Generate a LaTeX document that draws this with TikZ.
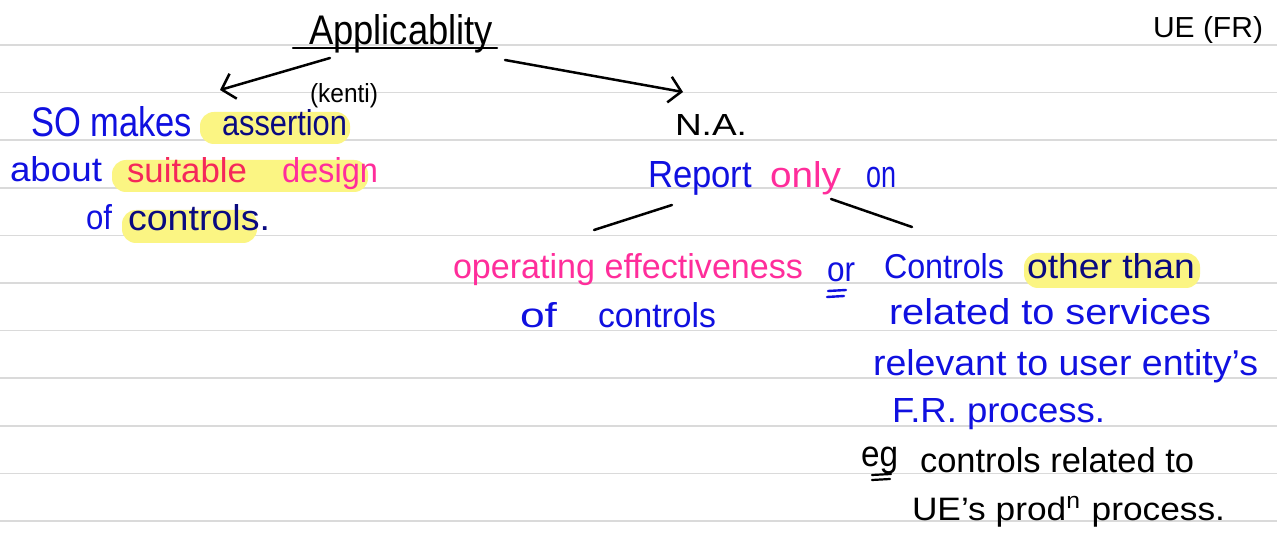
\documentclass[tikz,border=0pt]{standalone}
\usepackage{fontspec}
\setmainfont{Liberation Sans}
\usetikzlibrary{arrows.meta}
\definecolor{pen}{HTML}{1010E0}
\definecolor{navypen}{HTML}{0A0A80}
\definecolor{pinkpen}{HTML}{FF2D9B}
\definecolor{redpen}{HTML}{F5285A}
\definecolor{hl}{HTML}{FBF583}
\definecolor{ruled}{HTML}{DADADA}
\newcommand{\fw}[3]{\resizebox{#1pt}{#2pt}{\vphantom{Ag}#3}}
\begin{document}
\begin{tikzpicture}[x=1pt,y=-1pt,
  txt/.style={anchor=base west, inner sep=0pt, outer sep=0pt},
  ruleline/.style={ruled, line width=1.6pt},
  hilite/.style={fill=hl, rounded corners=14pt},
  ink/.style={line width=2.5pt, line cap=round, black},
  barb/.style={-{Straight Barb[length=12pt,width=26pt]}}]
\fill[white] (0,0) rectangle (1277,545);
\useasboundingbox (0,0) rectangle (1277,545);
% ruled paper
\foreach \k in {0,...,10} \draw[ruleline] (0,{45+47.6*\k}) -- (1277,{45+47.6*\k});
% highlights
\fill[hilite] (200,112) rectangle (350,144);
\fill[hilite] (112,160) rectangle (368,192);
\fill[hilite] (122,210) rectangle (257,243);
\fill[hilite] (1024,253) rectangle (1200,288);
% title
\node[txt] (appl) at (309,45) {\fw{184}{30}{Applicablity}};
\draw[ink] (293,48) -- (497,48);
\node[txt] (kenti) at (310,103) {\fw{68}{19}{(kenti)}};
\node[txt] (uefr) at (1153,38) {\fw{110}{21}{UE (FR)}};
% arrows
\coordinate (la0) at (330,58);
\coordinate (la1) at (220,90);
\draw[ink,barb] (la0) -- (la1);
\coordinate (ra0) at (505,60);
\coordinate (ra1) at (683,92);
\draw[ink,barb] (ra0) -- (ra1);
% left block
\node[txt,text=pen] (so) at (31,137) {\fw{161}{30}{SO makes}};
\node[txt,text=navypen] (assertion) at (222,136) {\fw{125}{26}{assertion}};
\node[txt,text=pen] (about) at (10,182) {\fw{92}{25}{about}};
\node[txt,text=redpen] (suitable) at (127,183) {\fw{120}{25}{suitable}};
\node[txt,text=pinkpen] (design) at (282,183) {\fw{96}{25}{design}};
\node[txt,text=pen] (of1) at (86,230) {\fw{26}{25}{of}};
\node[txt,text=navypen] (controls1) at (128,231) {\fw{142}{26}{controls.}};
% right block
\node[txt] (na) at (675,136) {\fw{72}{21}{N.A.}};
\node[txt,text=pen] (report) at (648,188) {\fw{104}{26}{Report}};
\node[txt,text=pinkpen] (only) at (770,188) {\fw{71}{26}{only}};
\node[txt,text=pen] (on) at (866,188) {\fw{30}{26}{on}};
\coordinate (lb0) at (672,205);
\coordinate (lb1) at (594,230);
\draw[ink] (lb0) -- (lb1);
\coordinate (rb0) at (831,199);
\coordinate (rb1) at (912,227);
\draw[ink] (rb0) -- (rb1);
\node[txt,text=pinkpen] (opeff) at (453,279) {\fw{350}{25}{operating effectiveness}};
\node[txt,text=pen] (of2) at (520,327) {\fw{37}{25}{of}};
\node[txt,text=pen] (controls2) at (598,327) {\fw{118}{25}{controls}};
\node[txt,text=pen] (or) at (827,282) {\fw{28}{24}{or}};
\draw[pen,line width=2.4pt,line cap=round] (828,291) -- (846,290);
\draw[pen,line width=2.4pt,line cap=round] (827,297) -- (844,296);
\node[txt,text=pen] (controls3) at (884,279) {\fw{120}{25}{Controls}};
\node[txt,text=navypen] (other) at (1027,279) {\fw{168}{25}{other than}};
\node[txt,text=pen] (related) at (889,325) {\fw{322}{26}{related to services}};
\node[txt,text=pen] (relevant) at (873,375) {\fw{385}{26}{relevant to user entity's}};
\node[txt,text=pen] (frp) at (892,422) {\fw{213}{24}{F.R. process.}};
\node[txt] (eg) at (861,466) {\fw{37}{25}{eg}};
\draw[black,line width=2.2pt,line cap=round] (872,475) -- (891,474);
\draw[black,line width=2.2pt,line cap=round] (872,480) -- (890,479);
\node[txt] (ctrlrel) at (920,472) {\fw{274}{25}{controls related to}};
\node[txt] (ues) at (912,520) {\fw{313}{24}{UE's prod\textsuperscript{n} process.}};
\end{tikzpicture}
\end{document}
